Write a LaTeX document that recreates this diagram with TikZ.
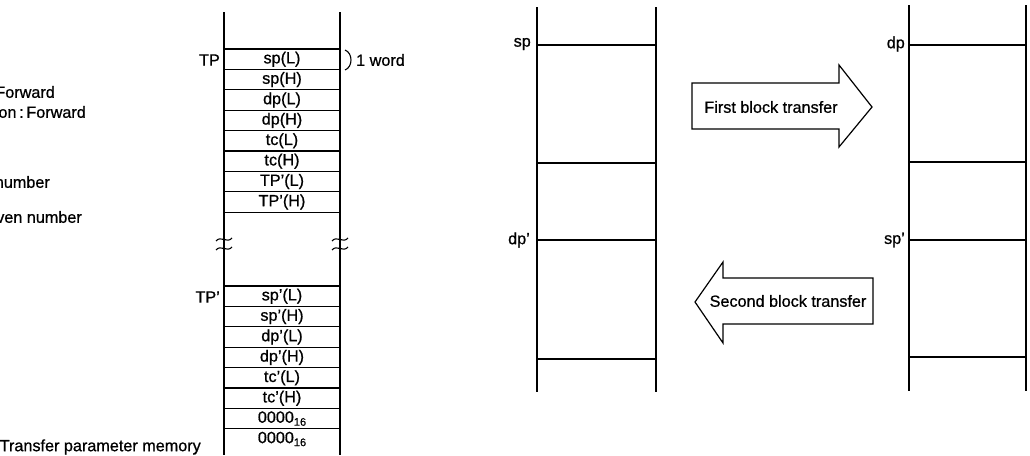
\documentclass[tikz,border=0pt]{standalone}
\usepackage{fontspec}
\setmainfont[FakeBold=0.8]{Liberation Sans}
\newcommand{\sixteen}{\raisebox{-0.35ex}{\fontsize{11}{12}\selectfont 16}}
\begin{document}
\begin{tikzpicture}[x=1pt,y=-1pt,
  every node/.style={font=\fontsize{16.2}{19}\selectfont, inner sep=0pt},
  col/.style={line width=1.5pt},
  rowline/.style={line width=1.3pt},
  brk/.style={line width=1.1pt},
  bigarrow/.style={line width=1.2pt, line join=miter}]
\useasboundingbox (0,0) rectangle (1030,455);

% ---- left legend texts (cut off at left edge, as in the reference)
\node[anchor=east] (l1) at (55,92) {Forward};
\node[anchor=east] (l2) at (86,112) {on\,:\,Forward};
\node[anchor=east] (l3) at (50,182) {number};
\node[anchor=east] (l4) at (82,217) {ven number};
\node[anchor=east] (mem) at (201,447) {Transfer parameter memory};

% ---- transfer parameter memory column
\draw[col] (224,12) -- (224,455);
\draw[col] (340,12) -- (340,455);
\foreach \y in {49,69.4,89.8,110.2,130.6,151,171.4,191.8,212.2,286,306.4,326.8,347.2,367.6,388,408.4,428.8}
  \draw[rowline] (224,\y) -- (340,\y);

\foreach \t [count=\i from 0] in {sp(L),sp(H),dp(L),dp(H),tc(L),tc(H),TP'(L),TP'(H)}
  \node (a\i) at (282,59.2+20.4*\i) {\t};
\foreach \t [count=\i from 0] in {sp'(L),sp'(H),dp'(L),dp'(H),tc'(L),tc'(H),0000\sixteen,0000\sixteen}
  \node (b\i) at (282,296.2+20.4*\i) {\t};

\node[anchor=east] (tp) at (220,60) {TP};
\node[anchor=east] (tpp) at (220,297) {TP'};

% break marks
\foreach \x in {224,340}{
  \draw[brk] (\x-8,241) .. controls (\x-3,235) and (\x+3,244) .. (\x+8,238);
  \draw[brk] (\x-8,250) .. controls (\x-3,244) and (\x+3,253) .. (\x+8,247);
}

% 1 word brace
\draw[line width=1.1pt] (345,50) .. controls (353,53) and (353,67) .. (345,70);
\node[anchor=west] (word) at (356,60) {1 word};

% ---- right memory columns
\draw[col] (537,7) -- (537,392);
\draw[col] (656,7) -- (656,392);
\foreach \y in {45,163,240,359}
  \draw[rowline] (537,\y) -- (656,\y);
\node[anchor=east] (sp) at (531,44) {sp};
\node[anchor=east] (dpp) at (530,240) {dp'};

\draw[col] (909,5) -- (909,391);
\draw[col] (1026,5) -- (1026,391);
\foreach \y in {45,162,240,357}
  \draw[rowline] (909,\y) -- (1026,\y);
\node[anchor=east] (dp) at (905,44) {dp};
\node[anchor=east] (spp) at (905,240) {sp'};

% ---- block transfer arrows
\draw[bigarrow] (692,83) -- (839,83) -- (839,65) -- (872,107) -- (839,147) -- (839,129) -- (692,129) -- cycle;
\node (first) at (771,107) {First block transfer};
\draw[bigarrow] (695,302) -- (723,262) -- (723,278) -- (873,278) -- (873,324) -- (723,324) -- (723,343) -- cycle;
\node (second) at (788,301) {Second block transfer};
\end{tikzpicture}
\end{document}
